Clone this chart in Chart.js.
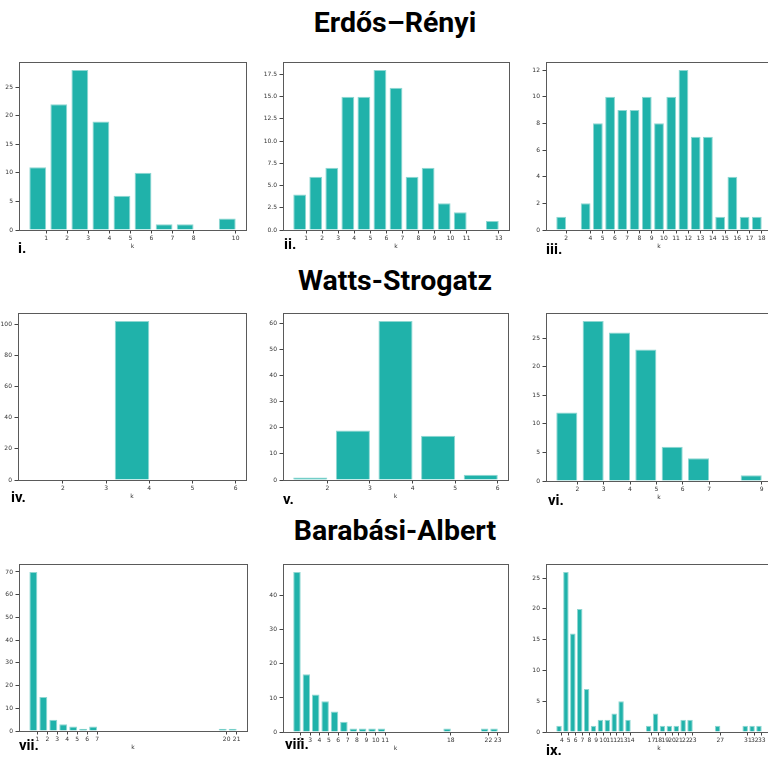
<!DOCTYPE html>
<html>
<head>
<meta charset="utf-8">
<script src="https://cdn.jsdelivr.net/npm/chart.js@4"></script>
<style>
  html, body { margin: 0; padding: 0; background: #fff; overflow: hidden; }
  #wrap { position: relative; width: 768px; height: 760px; overflow: hidden; background: #fff; }
  .title { position: absolute; left: 0; width: 790px; text-align: center; font-family: Roboto, "Noto Sans", sans-serif; font-weight: 700; font-size: 28.5px; line-height: 1; color: #000; white-space: nowrap; }
  .plabel { position: absolute; font-family: Roboto, "Noto Sans", sans-serif; font-weight: 700; font-size: 15px; line-height: 1; color: #000; white-space: nowrap; }
  .cv { position: absolute; }
</style>
</head>
<body>
<div id="wrap"></div>
<script>
// ---------- data ----------
const titles = ["Erdős–Rényi", "Watts-Strogatz", "Barabási-Albert"];
const panelNames = ["i.", "ii.", "iii.", "iv.", "v.", "vi.", "vii.", "viii.", "ix."];

const kI = [1, 2, 3, 4, 5, 6, 7, 8, 10];
const countsI = [11, 22, 28, 19, 6, 10, 1, 1, 2];
const yTicksI = [0, 5, 10, 15, 20, 25];

const kII = [1, 2, 3, 4, 5, 6, 7, 8, 9, 10, 11, 13];
const countsII = [4, 6, 7, 15, 15, 18, 16, 6, 7, 3, 2, 1];
const yTicksII = [0, 2.5, 5, 7.5, 10, 12.5, 15, 17.5];

const kIII = [2, 4, 5, 6, 7, 8, 9, 10, 11, 12, 13, 14, 15, 16, 17, 18];
const countsIII = [1, 2, 8, 10, 9, 9, 10, 8, 10, 12, 7, 7, 1, 4, 1, 1];
const yTicksIII = [0, 2, 4, 6, 8, 10, 12];

const kIV = [4];
const countsIV = [102];
const xTicksIV = [2, 3, 4, 5, 6];
const yTicksIV = [0, 20, 40, 60, 80, 100];

const kV = [2, 3, 4, 5, 6];
const countsV = [1, 19, 61, 17, 2];
const yTicksV = [0, 10, 20, 30, 40, 50, 60];

const kVI = [2, 3, 4, 5, 6, 7, 9];
const countsVI = [12, 28, 26, 23, 6, 4, 1];
const yTicksVI = [0, 5, 10, 15, 20, 25];

const kVII = [1, 2, 3, 4, 5, 6, 7, 20, 21];
const countsVII = [70, 15, 5, 3, 2, 1, 2, 1, 1];
const yTicksVII = [0, 10, 20, 30, 40, 50, 60, 70];

const kVIII = [2, 3, 4, 5, 6, 7, 8, 9, 10, 11, 18, 22, 23];
const countsVIII = [47, 17, 11, 9, 6, 3, 1, 1, 1, 1, 1, 1, 1];
const yTicksVIII = [0, 10, 20, 30, 40];

const kIX = [4, 5, 6, 7, 8, 9, 10, 11, 12, 13, 14, 17, 18, 19, 20, 21, 22, 23, 27, 31, 32, 33];
const countsIX = [1, 26, 16, 20, 7, 1, 2, 2, 3, 5, 2, 1, 3, 1, 1, 1, 2, 2, 1, 1, 1, 1];
const yTicksIX = [0, 5, 10, 15, 20, 25];

// ---------- layout ----------
const wrap = document.getElementById('wrap');
const titleTops = [9, 267, 517];
titles.forEach((t, i) => {
  const d = document.createElement('div');
  d.className = 'title';
  d.style.top = titleTops[i] + 'px';
  d.textContent = t;
  wrap.appendChild(d);
});

// frame boxes [left, top, right, bottom] and panel-label positions [x, top]
const panels = [
  {k: kI, c: countsI, yt: yTicksI, box: [19, 62, 246, 230], lab: [18, 241]},
  {k: kII, c: countsII, yt: yTicksII, box: [283, 62, 509, 230], lab: [284, 237], fmt: v => v.toFixed(1)},
  {k: kIII, c: countsIII, yt: yTicksIII, box: [546, 62, 772, 230], lab: [546, 242]},
  {k: kIV, c: countsIV, yt: yTicksIV, xt: xTicksIV, box: [18, 313, 246, 480], lab: [11, 490], xr: [0.96, 6.24]},
  {k: kV, c: countsV, yt: yTicksV, box: [283, 313, 508, 480], lab: [283, 492]},
  {k: kVI, c: countsVI, yt: yTicksVI, box: [546, 313, 772, 481], lab: [548, 493]},
  {k: kVII, c: countsVII, yt: yTicksVII, box: [19, 564, 247, 731], lab: [19, 738]},
  {k: kVIII, c: countsVIII, yt: yTicksVIII, box: [283, 564, 508, 732], lab: [285, 737]},
  {k: kIX, c: countsIX, yt: yTicksIX, box: [546, 564, 772, 732], lab: [546, 743]}
];

const frame = {
  id: 'frame',
  afterDraw(ch) {
    const a = ch.chartArea, ctx = ch.ctx;
    ctx.save();
    ctx.strokeStyle = '#5a5a5a';
    ctx.lineWidth = 1;
    ctx.strokeRect(Math.round(a.left) + 0.5, Math.round(a.top) + 0.5,
                   Math.round(a.right - a.left), Math.round(a.bottom - a.top));
    ctx.restore();
  }
};

const tickFont = {family: 'DejaVu Sans', size: 6};
const tickColor = '#333';

panels.forEach((p, idx) => {
  const [L, T, R, B] = p.box;
  const PL = 30, PT = 8, PR = 14, PB = 26;
  const W = R - L + PL + PR, H = B - T + PT + PB;
  const cv = document.createElement('canvas');
  cv.className = 'cv';
  cv.width = W; cv.height = H;
  cv.style.left = (L - PL) + 'px';
  cv.style.top = (T - PT) + 'px';
  cv.style.width = W + 'px';
  cv.style.height = H + 'px';
  wrap.appendChild(cv);

  const lo = Math.min(...p.k) - 0.8, hi = Math.max(...p.k);
  const m = 0.05 * (hi - lo);
  const xr = p.xr || [lo - m, hi + m];
  const ymax = Math.max(...p.c) * 1.05;
  const xt = p.xt || p.k;
  const fmt = p.fmt || (v => String(v));

  new Chart(cv, {
    type: 'bar',
    data: {
      datasets: [{
        data: p.k.map((k, i) => ({x: k - 0.4, y: p.c[i]})),
        backgroundColor: '#20B2AA',
        borderColor: '#8fd7d2',
        borderWidth: 1,
        borderSkipped: 'bottom',
        barPercentage: 0.8,
        categoryPercentage: 1.0
      }]
    },
    options: {
      responsive: false,
      animation: false,
      events: [],
      layout: {padding: {left: 0, top: PT, right: PR, bottom: 0}},
      plugins: {legend: {display: false}, tooltip: {enabled: false}},
      scales: {
        x: {
          type: 'linear', min: xr[0], max: xr[1], bounds: 'data',
          offset: false,
          grid: {offset: false, drawOnChartArea: false, drawTicks: true, tickLength: 3.5, color: '#444'},
          border: {display: false},
          ticks: {autoSkip: false, maxRotation: 0, minRotation: 0, padding: 1, font: tickFont, color: tickColor,
                  callback: v => String(v)},
          afterBuildTicks: s => { s.ticks = xt.map(v => ({value: v})); },
          afterFit: s => { s.height = PB; },
          title: {display: true, text: 'k', font: tickFont, color: tickColor, padding: {top: 0, bottom: 6}}
        },
        y: {
          type: 'linear', min: 0, max: ymax, bounds: 'data',
          grid: {drawOnChartArea: false, drawTicks: true, tickLength: 3.5, color: '#444'},
          border: {display: false},
          ticks: {padding: 2.5, font: tickFont, color: tickColor, callback: v => fmt(v)},
          afterBuildTicks: s => { s.ticks = p.yt.map(v => ({value: v})); },
          afterFit: s => { s.width = PL; }
        }
      }
    },
    plugins: [frame]
  });

  const lab = document.createElement('div');
  lab.className = 'plabel';
  lab.style.left = p.lab[0] + 'px';
  lab.style.top = p.lab[1] + 'px';
  lab.textContent = panelNames[idx];
  wrap.appendChild(lab);
});
</script>
</body>
</html>
